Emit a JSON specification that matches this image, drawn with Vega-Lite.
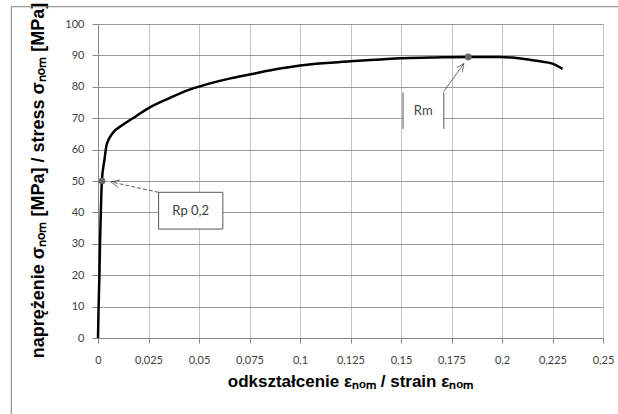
{
  "$schema": "https://vega.github.io/schema/vega-lite/v6.json",
  "autosize": {"type": "none"},
  "width": 505,
  "height": 314,
  "padding": {"left": 98, "top": 24, "right": 15, "bottom": 76},
  "background": "white",
  "config": {
    "view": {"stroke": null},
    "axis": {
      "labelFont": "Lato",
      "labelFontSize": 11,
      "labelColor": "#404040",
      "labelOverlap": false,
      "labelFlush": false,
      "titleFont": "Liberation Sans Narrow, Liberation Sans",
      "titleFontWeight": "bold",
      "titleColor": "#000000",
      "domainColor": "#868686",
      "tickColor": "#868686",
      "gridWidth": 1
    },
    "axisX": {
      "gridColor": "#c4c4c4",
      "tickSize": 5,
      "labelPadding": 11,
      "titleFontSize": 17,
      "titleX": 252,
      "titleY": 48,
      "titleAlign": "center",
      "titleBaseline": "alphabetic"
    },
    "axisY": {
      "tickCount": 11,
      "gridColor": "#9a9a9a",
      "tickSize": 6,
      "labelPadding": 8,
      "titleFontSize": 18,
      "titleAngle": -90,
      "titleX": -60,
      "titleY": 156,
      "titleAlign": "center",
      "titleBaseline": "middle"
    }
  },
  "datasets": {
    "curve": [
      {"strain": 0, "stress": 0},
      {"strain": 0.0003, "stress": 10},
      {"strain": 0.0007, "stress": 20},
      {"strain": 0.001, "stress": 30},
      {"strain": 0.0014, "stress": 40},
      {"strain": 0.0019, "stress": 50},
      {"strain": 0.0032, "stress": 56.8},
      {"strain": 0.0041, "stress": 61},
      {"strain": 0.0055, "stress": 63.5},
      {"strain": 0.0073, "stress": 65.3},
      {"strain": 0.0123, "stress": 67.9},
      {"strain": 0.0173, "stress": 70},
      {"strain": 0.025, "stress": 73.2},
      {"strain": 0.0354, "stress": 76.4},
      {"strain": 0.0453, "stress": 79.1},
      {"strain": 0.055, "stress": 81.0},
      {"strain": 0.065, "stress": 82.6},
      {"strain": 0.075, "stress": 83.9},
      {"strain": 0.09, "stress": 85.8},
      {"strain": 0.1, "stress": 86.8},
      {"strain": 0.125, "stress": 88.1},
      {"strain": 0.14, "stress": 88.7},
      {"strain": 0.15, "stress": 89.1},
      {"strain": 0.165, "stress": 89.3},
      {"strain": 0.183, "stress": 89.5},
      {"strain": 0.199, "stress": 89.5},
      {"strain": 0.205, "stress": 89.3},
      {"strain": 0.212, "stress": 88.8},
      {"strain": 0.218, "stress": 88.2},
      {"strain": 0.225, "stress": 87.4},
      {"strain": 0.23, "stress": 85.7}
    ],
    "points": [
      {"strain": 0.002, "stress": 50, "name": "Rp 0,2"},
      {"strain": 0.1833, "stress": 89.5, "name": "Rm"}
    ],
    "labelbox": [
      {"name": "Rp 0,2", "x0": 0.030, "x1": 0.0618, "y0": 34.7, "y1": 46.4, "tx": 0.0459, "ty": 40.5}
    ],
    "rmbox": [
      {"name": "Rm", "x0": 0.151, "x1": 0.1712, "y0": 66.6, "y1": 78.2, "tx": 0.161, "ty": 72.2}
    ],
    "rmsides": [
      {"x": 0.151, "y": 66.6, "x2": 0.151, "y2": 78.2},
      {"x": 0.1712, "y": 66.6, "x2": 0.1712, "y2": 78.2}
    ],
    "arrows": [
      {"part": "shaft", "x": 0.030, "y": 46.4, "x2": 0.0065, "y2": 49.7},
      {"part": "head", "x": 0.0065, "y": 49.7, "x2": 0.0109, "y2": 50.3},
      {"part": "head", "x": 0.0065, "y": 49.7, "x2": 0.0101, "y2": 47.9},
      {"part": "shaft2", "x": 0.1712, "y": 78.5, "x2": 0.1811, "y2": 87.4},
      {"part": "head", "x": 0.1811, "y": 87.4, "x2": 0.1776, "y2": 86.1},
      {"part": "head", "x": 0.1811, "y": 87.4, "x2": 0.1804, "y2": 84.8}
    ]
  },
  "layer": [
    {
      "data": {"name": "curve"},
      "mark": {"type": "line", "color": "#000000", "strokeWidth": 2.5, "interpolate": "monotone"},
      "encoding": {
        "x": {
          "field": "strain", "type": "quantitative",
          "scale": {"domain": [0, 0.25], "nice": false, "zero": false},
          "axis": {
            "title": "odkształcenie εₙₒₘ / strain εₙₒₘ",
            "values": [0, 0.025, 0.05, 0.075, 0.1, 0.125, 0.15, 0.175, 0.2, 0.225, 0.25],
            "labelExpr": "replace(toString(datum.value), '.', ',')"
          }
        },
        "y": {
          "field": "stress", "type": "quantitative",
          "scale": {"domain": [0, 100], "nice": false},
          "axis": {"title": "naprężenie σₙₒₘ [MPa] / stress σₙₒₘ [MPa]"}
        }
      }
    },
    {
      "data": {"name": "labelbox"},
      "mark": {"type": "rect", "fill": "white", "stroke": "#555555", "strokeWidth": 1},
      "encoding": {
        "x": {"field": "x0", "type": "quantitative"},
        "x2": {"field": "x1"},
        "y": {"field": "y0", "type": "quantitative"},
        "y2": {"field": "y1"}
      }
    },
    {
      "data": {"name": "labelbox"},
      "mark": {"type": "text", "font": "Lato", "fontSize": 13, "color": "#404040", "align": "center", "baseline": "middle"},
      "encoding": {
        "x": {"field": "tx", "type": "quantitative"},
        "y": {"field": "ty", "type": "quantitative"},
        "text": {"field": "name"}
      }
    },
    {
      "data": {"name": "rmbox"},
      "mark": {"type": "rect", "fill": "white", "strokeWidth": 0},
      "encoding": {
        "x": {"field": "x0", "type": "quantitative"},
        "x2": {"field": "x1"},
        "y": {"field": "y0", "type": "quantitative"},
        "y2": {"field": "y1"}
      }
    },
    {
      "data": {"name": "rmbox"},
      "mark": {"type": "text", "font": "Lato", "fontSize": 13, "color": "#404040", "align": "center", "baseline": "middle"},
      "encoding": {
        "x": {"field": "tx", "type": "quantitative"},
        "y": {"field": "ty", "type": "quantitative"},
        "text": {"field": "name"}
      }
    },
    {
      "data": {"name": "rmsides"},
      "mark": {"type": "rule", "color": "#555555", "strokeWidth": 1},
      "encoding": {
        "x": {"field": "x", "type": "quantitative"},
        "y": {"field": "y", "type": "quantitative"},
        "x2": {"field": "x2"},
        "y2": {"field": "y2"}
      }
    },
    {
      "data": {"name": "arrows"},
      "mark": {"type": "rule", "color": "#333333", "strokeWidth": 0.8},
      "encoding": {
        "x": {"field": "x", "type": "quantitative"},
        "y": {"field": "y", "type": "quantitative"},
        "x2": {"field": "x2"},
        "y2": {"field": "y2"},
        "strokeDash": {
          "field": "part", "type": "nominal", "legend": null,
          "scale": {"domain": ["shaft", "shaft2", "head"], "range": [[4, 2], [1, 0], [1, 0]]}
        }
      }
    },
    {
      "data": {"name": "points"},
      "mark": {"type": "point", "filled": true, "color": "#666666", "size": 45, "opacity": 1},
      "encoding": {
        "x": {"field": "strain", "type": "quantitative"},
        "y": {"field": "stress", "type": "quantitative"}
      }
    },
    {
      "data": {"values": [{}]},
      "mark": {"type": "rule", "color": "#7f7f7f", "strokeWidth": 1, "clip": false},
      "encoding": {
        "x": {"datum": -0.0429, "type": "quantitative"},
        "y": {"datum": 105.5, "type": "quantitative"},
        "y2": {"datum": -30}
      }
    },
    {
      "data": {"values": [{}]},
      "mark": {"type": "rule", "color": "#7f7f7f", "strokeWidth": 1, "clip": false},
      "encoding": {
        "y": {"datum": 105.5, "type": "quantitative"},
        "x": {"datum": -0.0429, "type": "quantitative"},
        "x2": {"datum": 0.27}
      }
    }
  ]
}
